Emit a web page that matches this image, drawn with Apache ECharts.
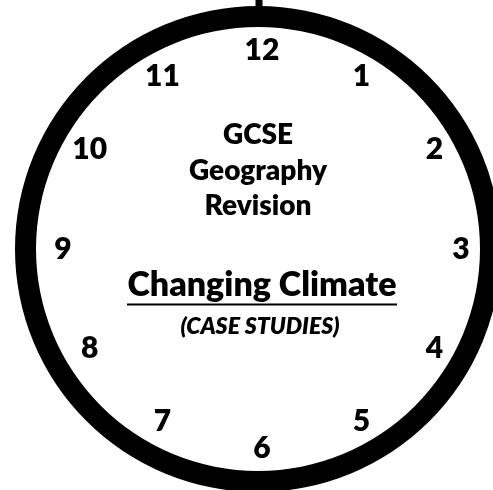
<!DOCTYPE html>
<html>
<head>
<meta charset="utf-8">
<script src="https://cdn.jsdelivr.net/npm/echarts@6/dist/echarts.min.js"></script>
<style>
  html, body { margin: 0; padding: 0; background: #fff; }
  #chart { width: 493px; height: 490px; }
</style>
</head>
<body>
<div id="chart"></div>
<script>
  // clock face numbers, starting at the top and going clockwise
  const hourLabels = ['12', '1', '2', '3', '4', '5', '6', '7', '8', '9', '10', '11'];
  const numberRadius = 1;
  const handValue = [0];

  // centre text lines
  const headingLines = ['GCSE', 'Geography', 'Revision'];
  const topicTitle = 'Changing Climate';
  const topicNote = '(CASE STUDIES)';

  const FONT = 'Lato';
  const WEIGHT = 800;
  const chart = echarts.init(document.getElementById('chart'), null, { renderer: 'canvas' });

  const headingTops = [135, 170.5, 205.5];

  const titles = headingLines.map((line, i) => ({
    text: line,
    left: 258,
    top: headingTops[i],
    padding: 0,
    textAlign: 'center',
    textVerticalAlign: 'middle',
    textStyle: { fontFamily: FONT, fontSize: 28, fontWeight: WEIGHT, color: '#000' }
  }));

  titles.push({
    text: `{t|${topicTitle}}\n{u|}`,
    left: 262,
    top: 268,
    padding: 0,
    textAlign: 'center',
    textVerticalAlign: 'top',
    textStyle: {
      rich: {
        t: { fontFamily: FONT, fontSize: 34, fontWeight: WEIGHT, color: '#000', lineHeight: 35 },
        u: { width: 270, height: 2, lineHeight: 3, fontSize: 1, backgroundColor: '#000' }
      }
    }
  });

  titles.push({
    text: topicNote,
    left: 260,
    top: 327,
    padding: 0,
    textAlign: 'center',
    textVerticalAlign: 'middle',
    textStyle: { fontFamily: FONT, fontSize: 23, fontWeight: WEIGHT, fontStyle: 'italic', color: '#000' }
  });

  const option = {
    animation: false,
    backgroundColor: '#fff',
    title: titles,
    polar: { center: [262, 249], radius: 199 },
    angleAxis: {
      type: 'category',
      data: hourLabels,
      startAngle: 90,
      clockwise: true,
      boundaryGap: false,
      axisLine: { show: false },
      axisTick: { show: false },
      axisLabel: { show: false },
      splitLine: { show: false }
    },
    radiusAxis: { type: 'value', min: 0, max: 1, show: false },
    series: [
      {
        // the clock rim and the short stub at 12
        type: 'gauge',
        center: [258, 249],
        radius: 243,
        startAngle: 90,
        endAngle: -270,
        min: 0,
        max: 12,
        splitNumber: 12,
        axisLine: { lineStyle: { width: 21, color: [[1, '#000']] } },
        axisTick: { show: false },
        splitLine: { show: false },
        axisLabel: { show: false },
        pointer: {
          show: true,
          icon: 'rect',
          width: 7,
          length: 14,
          offsetCenter: [1, -237],
          itemStyle: { color: '#000' }
        },
        anchor: { show: false },
        title: { show: false },
        detail: { show: false },
        data: handValue.map((v) => ({ value: v }))
      },
      {
        type: 'scatter',
        coordinateSystem: 'polar',
        symbol: 'circle',
        symbolSize: 1,
        itemStyle: { color: 'rgba(0,0,0,0)', opacity: 1 },
        label: {
          show: true,
          position: 'inside',
          formatter: '{b}',
          fontFamily: FONT,
          fontSize: 30,
          fontWeight: WEIGHT,
          color: '#000'
        },
        data: hourLabels.map((h) => ({ name: h, value: [numberRadius, h] }))
      }
    ]
  };

  chart.setOption(option);
</script>
</body>
</html>
